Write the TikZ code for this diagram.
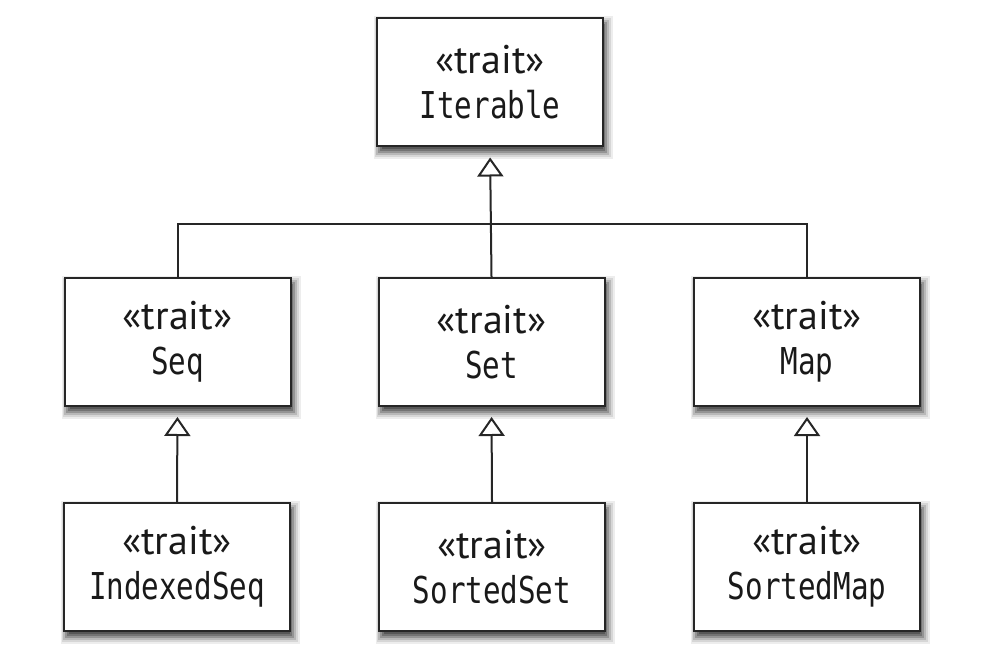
\documentclass[tikz,border=0pt]{standalone}
\usepackage{fontspec}
\newfontfamily\mn[FakeStretch=0.79]{DejaVu Sans Mono}
\newfontfamily\tr{PT Sans}
\usetikzlibrary{arrows.meta}
\tikzset{
  cls/.style={draw=black!85, line width=1pt, fill=white, minimum width=113pt, minimum height=64pt,
    inner sep=0pt, align=center, text=black!90,
    font=\fontsize{20pt}{22.5pt}\selectfont},
  inh/.style={draw=black!85, line width=1pt, -{Triangle[open, length=9.5pt, width=13pt, line width=1pt]}, shorten >=5pt},
  lnk/.style={draw=black!85, line width=1pt},
  shdw/.style={fill=black!#1, draw=none},
}
\newcommand{\trt}[1]{{\tr\fontsize{20pt}{22.5pt}\selectfont «trait»}\\{\mn\fontsize{18.5pt}{22.5pt}\selectfont #1}}
% soft drop shadow behind a box centred at (#1,#2)
\newcommand{\shbox}[2]{%
  \fill[shdw=7]  ({#1-116},{#2-66}) rectangle ({#1+123},{#2+77});
  \fill[shdw=16] ({#1-115},{#2-64}) rectangle ({#1+121},{#2+75});
  \fill[shdw=28] ({#1-114},{#2-62}) rectangle ({#1+119},{#2+73});
  \fill[shdw=42] ({#1-112},{#2-60}) rectangle ({#1+117},{#2+71});
  \fill[shdw=55] ({#1-110},{#2-58}) rectangle ({#1+115},{#2+69});
  \fill[shdw=66] ({#1-108},{#2-56}) rectangle ({#1+113},{#2+67});
}
\begin{document}
\begin{tikzpicture}[x=0.5pt,y=-0.5pt]
\useasboundingbox (0,0) rectangle (1004,662);
\shbox{490}{82.5}
\shbox{177.5}{342}
\shbox{491.5}{342}
\shbox{807}{342}
\shbox{177}{567}
\shbox{492}{567}
\shbox{807}{567}
\node[cls] (it) at (490,82.5) {\trt{Iterable}};
\node[cls] (seq) at (177.5,342) {\trt{Seq}};
\node[cls] (set) at (491.5,342) {\trt{Set}};
\node[cls] (map) at (807,342) {\trt{Map}};
\node[cls] (iseq) at (177,567) {\trt{IndexedSeq}};
\node[cls] (sset) at (492,567) {\trt{SortedSet}};
\node[cls] (smap) at (807,567) {\trt{SortedMap}};
\coordinate (j) at (491,224);
\draw[lnk] (seq.north) |- (j) -| (map.north);
\draw[inh] (set.north) -- (it.south);
\draw[inh] (iseq.north) -- (seq.south);
\draw[inh] (sset.north) -- (set.south);
\draw[inh] (smap.north) -- (map.south);
\end{tikzpicture}
\end{document}
